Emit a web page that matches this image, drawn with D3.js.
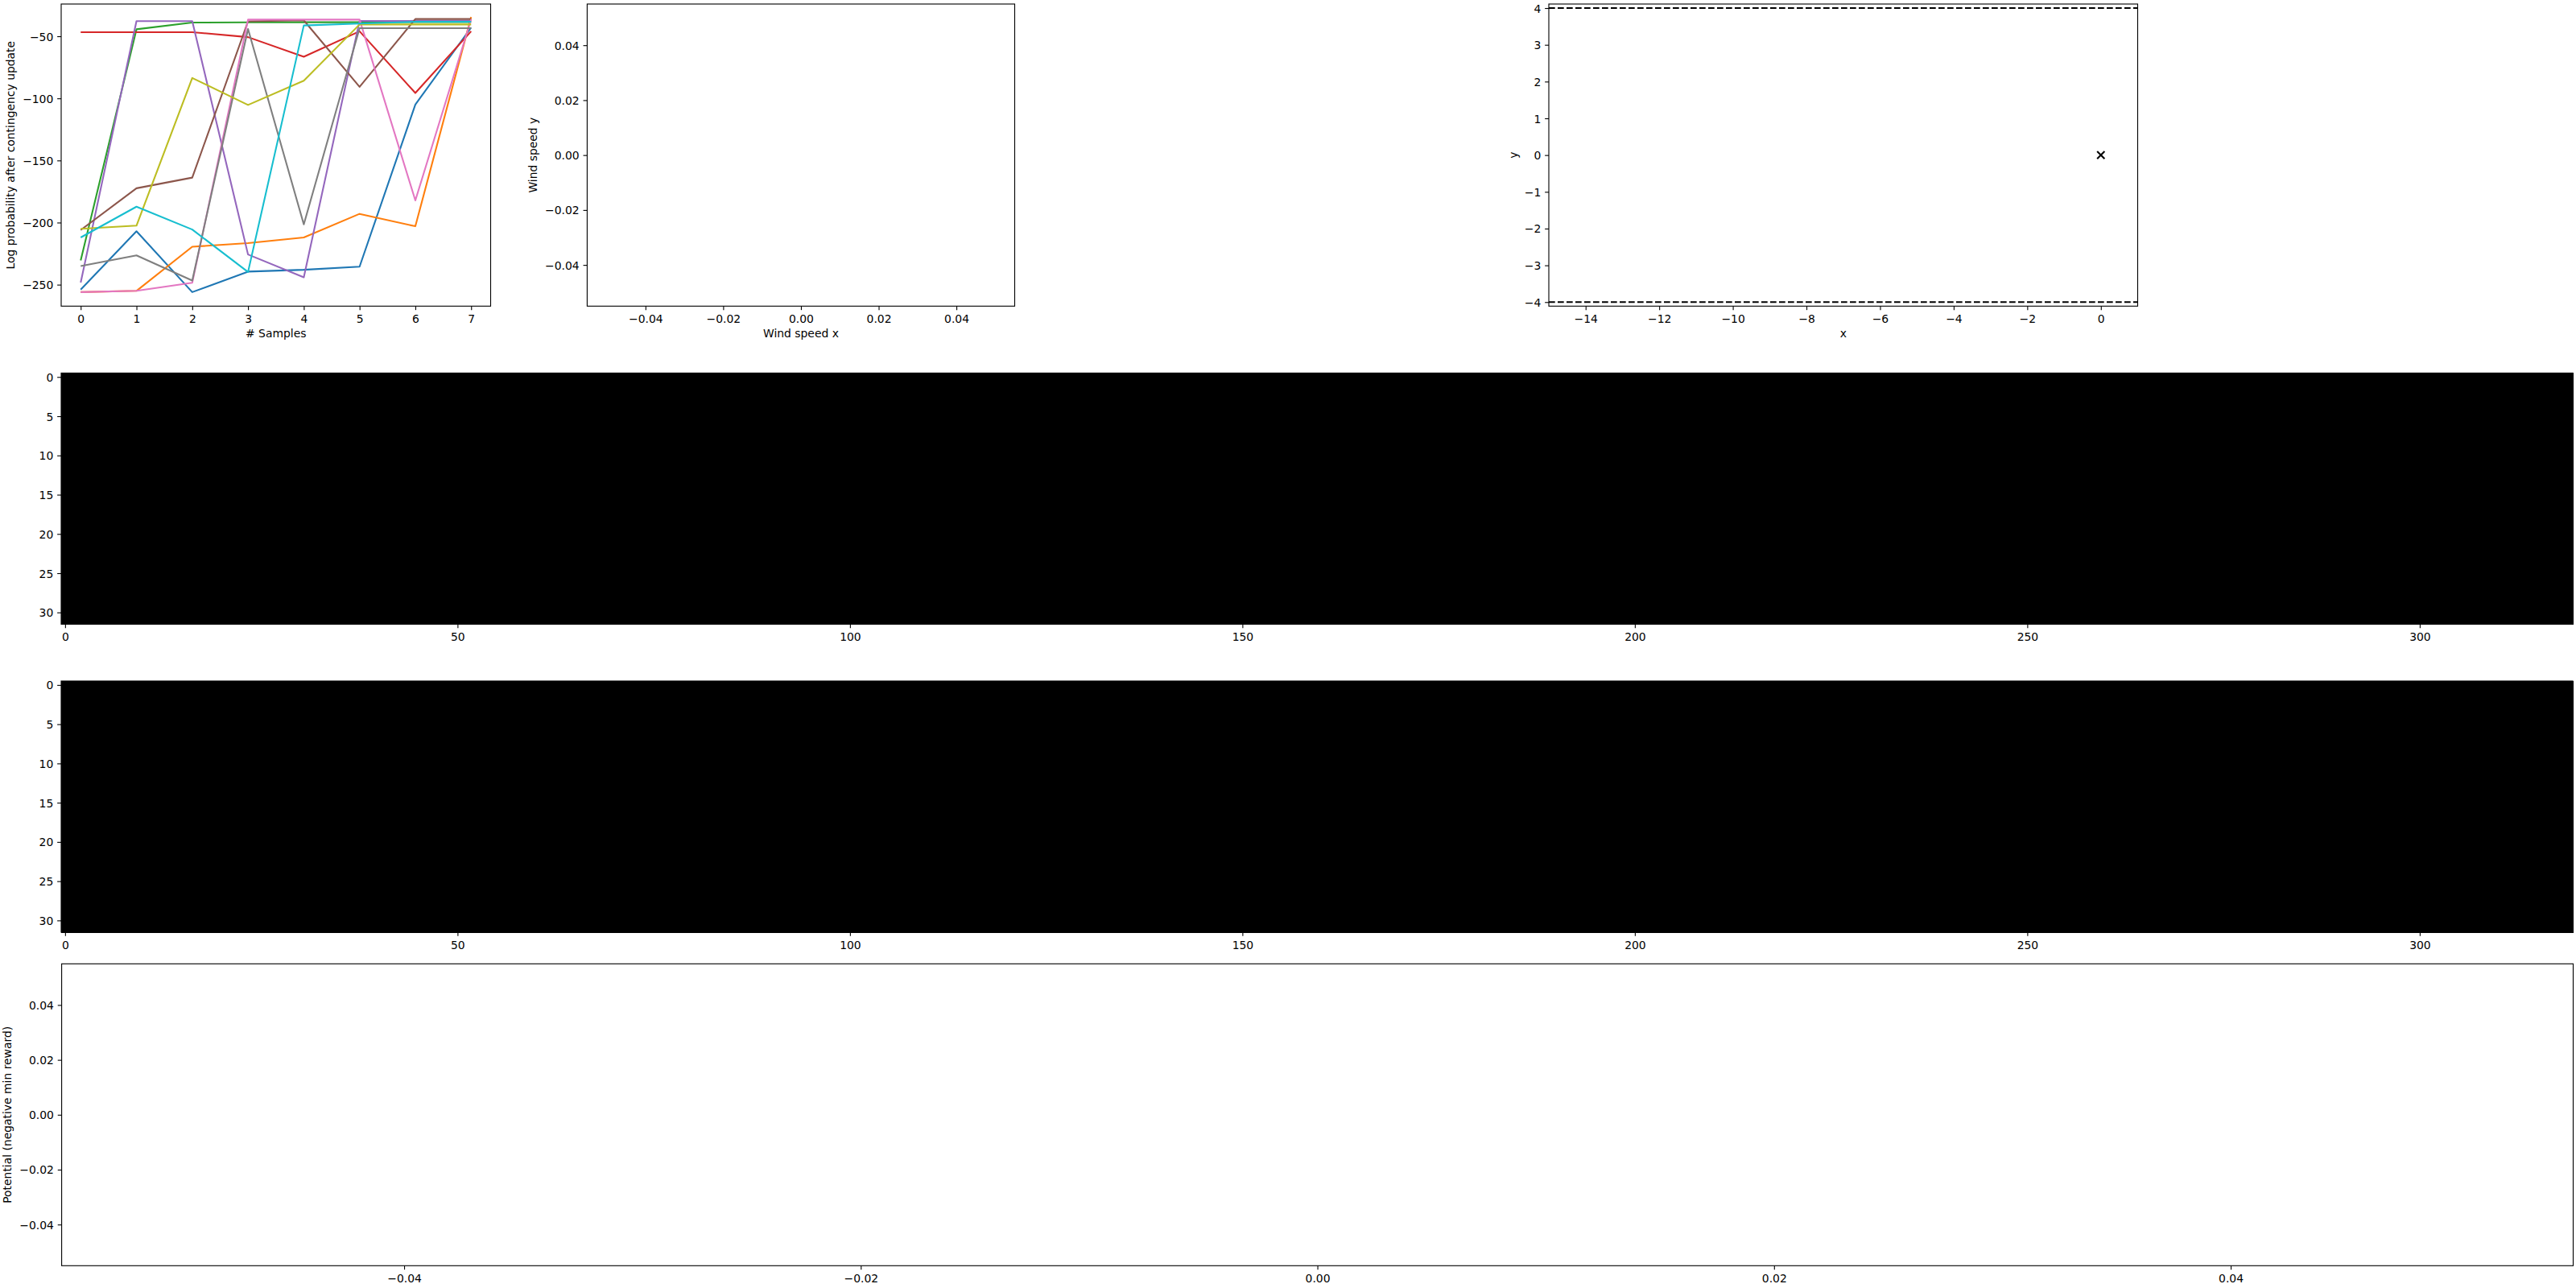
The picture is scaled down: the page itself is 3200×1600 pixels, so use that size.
<!DOCTYPE html>
<html>
<head>
<meta charset="utf-8">
<script src="https://cdn.jsdelivr.net/npm/d3@7"></script>
<style>
  html, body { margin: 0; padding: 0; background: #fff; }
  svg { display: block; }
  text { font-family: "DejaVu Sans", sans-serif; }
</style>
</head>
<body>
<script>
// ---------------- DATA ----------------
const samples = [0, 1, 2, 3, 4, 5, 6, 7];
const seriesBlue   = [-254, -207, -256, -239.5, -238, -235.5, -105, -43];
const seriesOrange = [-256, -255, -219.5, -216.5, -212, -193, -203, -34.5];
const seriesGreen  = [-230.5, -44.4, -39, -38.8, -38.7, -38.7, -38.6, -38.6];
const seriesRed    = [-46.7, -46.7, -46.7, -50.7, -66.5, -46, -95.7, -46];
const seriesPurple = [-248.3, -37.8, -37.8, -225.7, -244.1, -37.7, -37.6, -37.6];
const seriesBrown  = [-206, -172.4, -163.8, -38, -37.2, -90.7, -36.1, -36.1];
const seriesPink   = [-256, -255, -248.5, -36.6, -36.6, -36.6, -182.2, -36.4];
const seriesGray   = [-235, -226.4, -246.7, -44.1, -201.5, -43.5, -43.5, -43.5];
const seriesOlive  = [-205, -202.5, -83.6, -105.3, -85.8, -40.5, -40.5, -40.5];
const seriesCyan   = [-212, -187.2, -205.6, -239.8, -41.3, -39.8, -38.3, -38.3];
const allSeries = [seriesBlue, seriesOrange, seriesGreen, seriesRed, seriesPurple,
                   seriesBrown, seriesPink, seriesGray, seriesOlive, seriesCyan];
const seriesColors = ["#1f77b4", "#ff7f0e", "#2ca02c", "#d62728", "#9467bd",
                      "#8c564b", "#e377c2", "#7f7f7f", "#bcbd22", "#17becf"];

const lineXTicks = [0, 1, 2, 3, 4, 5, 6, 7];
const lineYTicks = [-250, -200, -150, -100, -50];

const smallTicks = [-0.04, -0.02, 0, 0.02, 0.04];

const trackXTicks = [-14, -12, -10, -8, -6, -4, -2, 0];
const trackYTicks = [-4, -3, -2, -1, 0, 1, 2, 3, 4];
const boundaryYs = [4, -4];
const markerX = [0];
const markerY = [0];

const heatRows = 32;
const heatCols = 320;
const heatValue = 0;            // every cell of both images is 0 (black)
const heatXTicks = [0, 50, 100, 150, 200, 250, 300];
const heatYTicks = [0, 5, 10, 15, 20, 25, 30];

// ---------------- LAYOUT ----------------
const W = 3200, H = 1600;
const FS = 13.9;
const TICK = 4.86, PAD = 4.86, SPINE = 1.11;

const svg = d3.select("body").append("svg")
  .attr("width", W).attr("height", H)
  .attr("viewBox", `0 0 ${W} ${H}`);

svg.append("rect").attr("width", W).attr("height", H).attr("fill", "#fff");

function drawAxes(box, x, y, xTicks, yTicks, xFmt, yFmt) {
  const g = svg.append("g");
  const ax = d3.axisBottom(x).tickValues(xTicks).tickFormat(xFmt)
    .tickSizeInner(TICK).tickSizeOuter(0).tickPadding(PAD);
  const ay = d3.axisLeft(y).tickValues(yTicks).tickFormat(yFmt)
    .tickSizeInner(TICK).tickSizeOuter(0).tickPadding(PAD);
  const gx = g.append("g").attr("transform", `translate(0,${box.bottom})`).call(ax);
  const gy = g.append("g").attr("transform", `translate(${box.left},0)`).call(ay);
  [gx, gy].forEach(s => {
    s.select(".domain").remove();
    s.selectAll(".tick line").attr("stroke", "#000").attr("stroke-width", SPINE);
    s.selectAll(".tick text").attr("fill", "#000")
      .style("font-family", "'DejaVu Sans', sans-serif").style("font-size", FS + "px");
  });
  gx.selectAll(".tick text").attr("dy", "0.8em");
  gy.selectAll(".tick text").attr("dy", "0.36em");
  return g;
}

function drawSpines(box) {
  svg.append("rect")
    .attr("x", box.left).attr("y", box.top)
    .attr("width", box.right - box.left).attr("height", box.bottom - box.top)
    .attr("fill", "none").attr("stroke", "#000").attr("stroke-width", SPINE);
}

function xLabel(box, txt, baseline) {
  svg.append("text").attr("x", (box.left + box.right) / 2).attr("y", baseline)
    .attr("text-anchor", "middle").style("font-size", FS + "px").attr("fill", "#000").text(txt);
}
function yLabel(box, txt, xpos) {
  const cy = (box.top + box.bottom) / 2;
  svg.append("text").attr("transform", `translate(${xpos},${cy}) rotate(-90)`)
    .attr("text-anchor", "middle").style("font-size", FS + "px").attr("fill", "#000").text(txt);
}

const fmtInt = d3.format("d");
const fmt2 = d3.format(".2f");

// ---------- Axis 1: line chart ----------
const box1 = {left: 76, right: 609.5, top: 5, bottom: 380.3};
const x1 = d3.scaleLinear().domain([-0.35, 7.35]).range([box1.left, box1.right]);
const y1 = d3.scaleLinear().domain([-267.3, -24.05]).range([box1.bottom, box1.top]);
const line1 = d3.line().x((d, i) => x1(samples[i])).y(d => y1(d));
allSeries.forEach((s, k) => {
  svg.append("path").datum(s).attr("d", line1)
    .attr("fill", "none").attr("stroke", seriesColors[k])
    .attr("stroke-width", 2.08).attr("stroke-linejoin", "round").attr("stroke-linecap", "butt");
});
drawAxes(box1, x1, y1, lineXTicks, lineYTicks, fmtInt, fmtInt);
drawSpines(box1);
xLabel(box1, "# Samples", 419);
yLabel(box1, "Log probability after contingency update", 18);

// ---------- Axis 2: wind speed (empty) ----------
const box2 = {left: 729.4, right: 1260.5, top: 5, bottom: 380.3};
const x2 = d3.scaleLinear().domain([-0.055, 0.055]).range([box2.left, box2.right]);
const y2 = d3.scaleLinear().domain([-0.055, 0.055]).range([box2.bottom, box2.top]);
drawAxes(box2, x2, y2, smallTicks, smallTicks, fmt2, fmt2);
drawSpines(box2);
xLabel(box2, "Wind speed x", 419);
yLabel(box2, "Wind speed y", 667);

// ---------- Axis 3: track ----------
const box3 = {left: 1924, right: 2655.5, top: 5, bottom: 380.3};
const x3 = d3.scaleLinear().domain([-15, 1]).range([box3.left, box3.right]);
const y3 = d3.scaleLinear().domain([-4.11, 4.11]).range([box3.bottom, box3.top]);
boundaryYs.forEach(v => {
  svg.append("line")
    .attr("x1", x3(-15)).attr("x2", x3(1)).attr("y1", y3(v)).attr("y2", y3(v))
    .attr("stroke", "#000").attr("stroke-width", 2.08).attr("stroke-dasharray", "7.7,3.3");
});
markerX.forEach((mx, i) => {
  const cx = x3(mx), cy = y3(markerY[i]), r = 4.6;
  svg.append("path")
    .attr("d", `M${cx - r},${cy - r}L${cx + r},${cy + r}M${cx - r},${cy + r}L${cx + r},${cy - r}`)
    .attr("stroke", "#000").attr("stroke-width", 2.1).attr("fill", "none");
});
drawAxes(box3, x3, y3, trackXTicks, trackYTicks, fmtInt, fmtInt);
drawSpines(box3);
xLabel(box3, "x", 419);
yLabel(box3, "y", 1885);

// ---------- Heatmaps ----------
const heatGrid = Array.from({length: heatRows}, () => Array.from({length: heatCols}, () => heatValue));
const heatColor = d3.scaleLinear().domain([0, 1]).range(["#000000", "#ffffff"]);
function drawHeat(box) {
  const x = d3.scaleLinear().domain([-0.5, heatCols - 0.5]).range([box.left, box.right]);
  const y = d3.scaleLinear().domain([-0.5, heatRows - 0.5]).range([box.top, box.bottom]);
  const g = svg.append("g").attr("shape-rendering", "crispEdges");
  const cells = [];
  heatGrid.forEach((row, i) => row.forEach((v, j) => cells.push({i, j, v})));
  g.selectAll("rect").data(cells).join("rect")
    .attr("x", d => x(d.j - 0.5)).attr("y", d => y(d.i - 0.5))
    .attr("width", d => x(d.j + 0.5) - x(d.j - 0.5) + 0.5)
    .attr("height", d => y(d.i + 0.5) - y(d.i - 0.5) + 0.5)
    .attr("fill", d => heatColor(d.v));
  // y axis inverted (origin upper): use y scale as-is
  drawAxes(box, x, y, heatXTicks, heatYTicks, fmtInt, fmtInt);
  svg.append("rect")
    .attr("x", box.left).attr("y", box.top)
    .attr("width", box.right - box.left).attr("height", box.bottom - box.top)
    .attr("fill", "none").attr("stroke", "#000").attr("stroke-width", SPINE);
}
drawHeat({left: 76, right: 3196, top: 463.4, bottom: 775.4});
drawHeat({left: 76, right: 3196, top: 846, bottom: 1158});

// ---------- Bottom axis: potential (empty) ----------
const box4 = {left: 76.6, right: 3196.5, top: 1197.3, bottom: 1572.3};
const x4 = d3.scaleLinear().domain([-0.055, 0.055]).range([box4.left, box4.right]);
const y4 = d3.scaleLinear().domain([-0.055, 0.055]).range([box4.bottom, box4.top]);
drawAxes(box4, x4, y4, smallTicks, smallTicks, fmt2, fmt2);
drawSpines(box4);
yLabel(box4, "Potential (negative min reward)", 14);
</script>
</body>
</html>
